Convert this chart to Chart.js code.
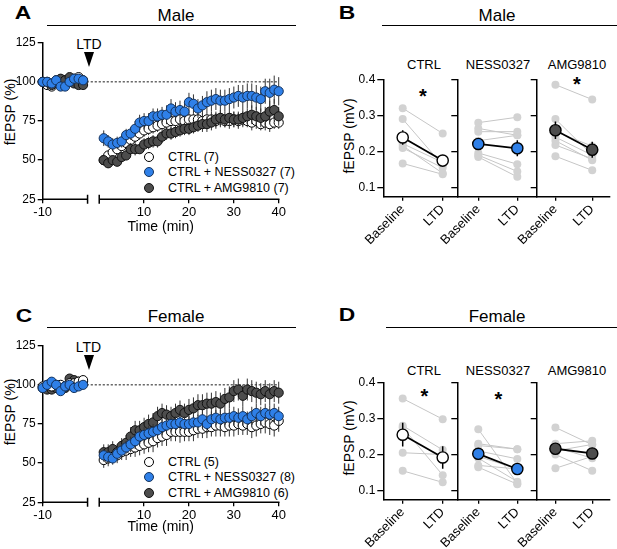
<!DOCTYPE html>
<html lang="en">

<head>
    <meta charset="UTF-8">
    <meta name="viewport" content="width=device-width, initial-scale=1.0">
    <title>LTD in male and female slices</title>
    <style>
        body {
            margin: 0;
            background: #fff;
            color: #000;
            font-family: "Liberation Sans", Arial, Helvetica, sans-serif;
        }

        #fig { position: relative; width: 617px; height: 549px; overflow: hidden; }
        #fig canvas { position: absolute; }
        .c { position: absolute; transform: translate(-50%, -50%); line-height: 1; white-space: nowrap; }
        .l { position: absolute; transform: translateY(-50%); line-height: 1; white-space: nowrap; font-size: 12.5px; }
        .v { position: absolute; transform: translate(-50%, -50%) rotate(-90deg); line-height: 1; white-space: nowrap; font-size: 14px; }
        .letter { font-size: 19px; font-weight: bold; transform: translate(-50%, -50%) scaleX(1.2); }
        .head { font-size: 17px; }
        .ltd { font-size: 14px; }
        .sub { font-size: 13px; }
        .star { font-size: 20px; font-weight: bold; }
        .rule { position: absolute; height: 0; border-top: 1.5px solid #000; }
        .dot { position: absolute; width: 10px; height: 10px; box-sizing: border-box; border-radius: 50%; border: 1px solid #000; transform: translate(-50%, -50%); }
        .arrow { position: absolute; width: 0; height: 0; border-left: 5.5px solid transparent; border-right: 5.5px solid transparent; border-top: 15px solid #000; }
    </style>
</head>

<body>
    <div id="fig">
        <!-- top row: male -->
        <div class="c letter" style="left:23px;top:11.5px">A</div>
        <div class="c head" style="left:176px;top:15px">Male</div>
        <div class="rule" style="left:47px;top:25.3px;width:249px"></div>
        <div class="c letter" style="left:347px;top:11.5px">B</div>
        <div class="c head" style="left:497px;top:15px">Male</div>
        <div class="rule" style="left:382px;top:25.3px;width:235px"></div>

        <div class="c ltd" style="left:89px;top:43.5px">LTD</div>
        <div class="arrow" style="left:83.5px;top:52px"></div>
        <div class="v" style="left:9.5px;top:111.5px">fEPSP (%)</div>

        <div class="dot" style="left:149px;top:157px;background:#fff"></div>
        <div class="l" style="left:168px;top:157px">CTRL (7)</div>
        <div class="dot" style="left:149px;top:172.3px;background:#2f80e8;border-color:#14325c"></div>
        <div class="l" style="left:168px;top:172.3px">CTRL + NESS0327 (7)</div>
        <div class="dot" style="left:149px;top:188.3px;background:#4d4d4d;border-color:#111"></div>
        <div class="l" style="left:168px;top:188.3px">CTRL + AMG9810 (7)</div>

        <div class="v" style="left:349px;top:136px">fEPSP (mV)</div>
        <div class="c sub" style="left:424px;top:63.5px">CTRL</div>
        <div class="c sub" style="left:498px;top:63.5px">NESS0327</div>
        <div class="c sub" style="left:577px;top:63.5px">AMG9810</div>
        <div class="c star" style="left:423px;top:95.8px">*</div>
        <div class="c star" style="left:577px;top:83.5px">*</div>

        <!-- bottom row: female -->
        <div class="c letter" style="left:23.5px;top:315px">C</div>
        <div class="c head" style="left:176px;top:315.5px">Female</div>
        <div class="rule" style="left:47px;top:327px;width:249px"></div>
        <div class="c letter" style="left:347px;top:314px">D</div>
        <div class="c head" style="left:497px;top:316px">Female</div>
        <div class="rule" style="left:386px;top:327px;width:231px"></div>

        <div class="c ltd" style="left:88.5px;top:346.5px">LTD</div>
        <div class="arrow" style="left:83.5px;top:355px"></div>
        <div class="v" style="left:9.5px;top:411.7px">fEPSP (%)</div>

        <div class="dot" style="left:149px;top:461.7px;background:#fff"></div>
        <div class="l" style="left:168px;top:461.7px">CTRL (5)</div>
        <div class="dot" style="left:149px;top:477.3px;background:#2f80e8;border-color:#14325c"></div>
        <div class="l" style="left:168px;top:477.3px">CTRL + NESS0327 (8)</div>
        <div class="dot" style="left:149px;top:492.7px;background:#4d4d4d;border-color:#111"></div>
        <div class="l" style="left:168px;top:492.7px">CTRL + AMG9810 (6)</div>

        <div class="v" style="left:349px;top:438px">fEPSP (mV)</div>
        <div class="c sub" style="left:424px;top:369.5px">CTRL</div>
        <div class="c sub" style="left:498px;top:369.5px">NESS0327</div>
        <div class="c sub" style="left:577px;top:369.5px">AMG9810</div>
        <div class="c star" style="left:424.5px;top:396.3px">*</div>
        <div class="c star" style="left:498.5px;top:398.5px">*</div>

        <canvas id="chartA" width="300" height="210" style="left:0;top:30px"></canvas>
        <canvas id="chartC" width="300" height="207" style="left:0;top:332.7px"></canvas>
        <canvas id="b1" width="130" height="195" style="left:338px;top:60px"></canvas>
        <canvas id="b2" width="127" height="195" style="left:420px;top:60px"></canvas>
        <canvas id="b3" width="117" height="195" style="left:500px;top:60px"></canvas>
        <canvas id="d1" width="130" height="195" style="left:338px;top:363px"></canvas>
        <canvas id="d2" width="127" height="195" style="left:420px;top:363px"></canvas>
        <canvas id="d3" width="117" height="195" style="left:500px;top:363px"></canvas>
    </div>

    <script src="https://cdn.jsdelivr.net/npm/chart.js"></script>
    <script>
    // ---- time course data (fEPSP, % of baseline) ----
    const baselineTimes = [-10, -9, -8, -7, -6, -5, -4, -3, -2, -1];
    const postTimes = [1, 2, 3, 4, 5, 6, 7, 8, 9, 10, 11, 12, 13, 14, 15, 16, 17, 18, 19, 20,
        21, 22, 23, 24, 25, 26, 27, 28, 29, 30, 31, 32, 33, 34, 35, 36, 37, 38, 39, 40];
    const timeTicks = [-10, 10, 20, 30, 40];
    const pctTicks = [25, 50, 75, 100, 125];

    const maleCtrlBase = [100, 98, 97, 100, 99, 101, 100, 102, 103, 101];
    const maleCtrlBaseSem = [1, 2, 2, 1, 2, 2, 1, 2, 2, 1];
    const maleCtrlPost = [50, 53, 55, 57, 59, 61, 63, 65, 67, 69, 70, 71, 72, 73, 74, 75, 75, 76, 75, 76,
        76, 76, 75, 76, 76, 75, 76, 75, 75, 76, 75, 76, 75, 74, 75, 73, 74, 73, 74, 74];
    const maleCtrlPostSem = [3, 3, 3, 3, 3, 3, 4, 4, 4, 4, 4, 4, 4, 4, 4, 5, 4, 4, 5, 5,
        4, 5, 5, 4, 5, 5, 5, 4, 5, 5, 5, 5, 4, 5, 5, 4, 5, 5, 4, 4];

    const maleNessBase = [100, 100, 99, 101, 97, 97, 100, 102, 102, 101];
    const maleNessBaseSem = [1, 1, 2, 2, 2, 2, 1, 2, 2, 2];
    const maleNessPost = [64, 62, 60, 61, 62, 66, 67, 70, 74, 75, 75, 78, 78, 79, 79, 83, 81, 82, 81, 87,
        86, 83, 85, 87, 88, 89, 88, 88, 89, 90, 91, 90, 91, 91, 90, 89, 94, 93, 95, 94];
    const maleNessPostSem = [5, 4, 4, 4, 4, 4, 4, 5, 5, 5, 5, 5, 5, 5, 6, 6, 6, 6, 6, 6,
        6, 6, 6, 7, 7, 7, 7, 7, 7, 7, 7, 8, 8, 8, 8, 8, 8, 9, 9, 9];

    const maleAmgBase = [100, 100, 98, 101, 102, 101, 103, 99, 98, 98];
    const maleAmgBaseSem = [1, 1, 1, 2, 2, 1, 2, 1, 1, 1];
    const maleAmgPost = [50, 48, 50, 49, 52, 53, 57, 57, 57, 60, 61, 62, 62, 65, 67, 67, 68, 69, 70, 70,
        71, 72, 73, 73, 74, 76, 77, 76, 77, 76, 76, 77, 78, 79, 78, 77, 78, 81, 82, 78];
    const maleAmgPostSem = [3, 3, 3, 3, 3, 3, 4, 4, 3, 4, 4, 4, 4, 4, 4, 4, 4, 4, 4, 4,
        4, 4, 5, 5, 5, 5, 5, 5, 5, 5, 5, 5, 5, 6, 6, 6, 6, 7, 7, 6];

    const femaleCtrlBase = [99, 100, 99, 100, 100, 99, 101, 101, 102, 103];
    const femaleCtrlBaseSem = [2, 2, 2, 2, 2, 2, 2, 2, 2, 2];
    const femaleCtrlPost = [52, 53, 54, 55, 57, 58, 59, 60, 61, 62, 63, 64, 66, 67, 68, 70, 70, 70, 70, 70,
        71, 72, 72, 73, 73, 74, 74, 73, 74, 74, 75, 74, 75, 73, 74, 75, 76, 75, 74, 77];
    const femaleCtrlPostSem = [5, 5, 4, 5, 5, 6, 5, 6, 6, 6, 6, 7, 6, 6, 7, 6, 6, 7, 6, 6,
        7, 6, 6, 7, 6, 7, 7, 6, 7, 7, 7, 6, 7, 7, 7, 6, 7, 7, 7, 7];

    const femaleNessBase = [98, 100, 102, 100, 96, 99, 100, 98, 99, 100];
    const femaleNessBaseSem = [1, 2, 2, 2, 2, 2, 1, 2, 2, 2];
    const femaleNessPost = [55, 54, 53, 56, 58, 60, 62, 64, 67, 68, 69, 70, 71, 73, 74, 75, 75, 76, 75, 75,
        76, 76, 78, 75, 78, 79, 78, 79, 79, 80, 79, 80, 78, 80, 82, 80, 82, 81, 82, 80];
    const femaleNessPostSem = [4, 4, 4, 4, 4, 4, 5, 5, 5, 5, 5, 5, 5, 5, 5, 5, 5, 5, 5, 5,
        5, 5, 5, 6, 5, 5, 6, 5, 6, 6, 6, 6, 5, 6, 6, 6, 6, 6, 6, 6];

    const femaleAmgBase = [98, 97, 97, 98, 99, 98, 104, 103, 102, 102];
    const femaleAmgBaseSem = [2, 2, 2, 2, 2, 2, 2, 2, 2, 2];
    const femaleAmgPost = [57, 57, 59, 57, 61, 63, 67, 71, 71, 73, 75, 76, 80, 82, 81, 80, 82, 84, 82, 84,
        85, 87, 87, 88, 88, 89, 88, 91, 92, 96, 97, 93, 97, 96, 95, 94, 96, 94, 96, 95];
    const femaleAmgPostSem = [5, 5, 5, 5, 5, 5, 6, 6, 6, 6, 6, 6, 6, 6, 6, 6, 6, 6, 6, 7,
        7, 7, 7, 7, 7, 7, 7, 7, 7, 7, 7, 7, 7, 7, 7, 7, 7, 7, 7, 7];

    // ---- paired amplitudes (fEPSP, mV), order: CTRL, NESS0327, AMG9810 ----
    const conditions = ['Baseline', 'LTD'];
    const mvTicks = [0.1, 0.2, 0.3, 0.4];

    const maleBaseline = [
        [0.32, 0.29, 0.24, 0.222, 0.216, 0.21, 0.167],
        [0.28, 0.264, 0.255, 0.23, 0.196, 0.19, 0.185],
        [0.385, 0.29, 0.255, 0.24, 0.23, 0.218, 0.187]
    ];
    const maleLtd = [
        [0.25, 0.162, 0.175, 0.17, 0.14, 0.155, 0.137],
        [0.295, 0.245, 0.255, 0.245, 0.165, 0.145, 0.13],
        [0.344, 0.19, 0.215, 0.19, 0.176, 0.18, 0.148]
    ];
    const maleMean = [[0.239, 0.175], [0.221, 0.209], [0.259, 0.205]];
    const maleSem = [[0.02, 0.012], [0.015, 0.022], [0.024, 0.022]];

    const femaleBaseline = [
        [0.355, 0.28, 0.275, 0.205, 0.155],
        [0.27, 0.23, 0.225, 0.21, 0.195, 0.19, 0.17, 0.165],
        [0.275, 0.23, 0.22, 0.21, 0.2, 0.162]
    ];
    const femaleLtd = [
        [0.298, 0.213, 0.143, 0.2, 0.123],
        [0.12, 0.215, 0.215, 0.188, 0.16, 0.125, 0.16, 0.118],
        [0.227, 0.238, 0.19, 0.228, 0.155, 0.195]
    ];
    const femaleMean = [[0.255, 0.192], [0.202, 0.16], [0.216, 0.203]];
    const femaleSem = [[0.033, 0.031], [0.01, 0.01], [0.012, 0.01]];

    // ---- drawing ----
    Chart.defaults.font.family = '"Liberation Sans", Arial, Helvetica, sans-serif';
    Chart.defaults.color = '#000';

    const BREAK = 2.6; // width of the axis gap, in minutes
    const FILLS = [
        { fill: '#ffffff', edge: '#000000' },
        { fill: '#2f80e8', edge: '#14325c' },
        { fill: '#4d4d4d', edge: '#111111' }
    ];

    function drawSem(chart, index, color, width) {
        const ds = chart.data.datasets[index];
        if (!ds.sem) return;
        const y = chart.scales.y;
        const ctx = chart.ctx;
        ctx.save();
        ctx.strokeStyle = color;
        ctx.lineWidth = width;
        ctx.beginPath();
        chart.getDatasetMeta(index).data.forEach((pt, i) => {
            const v = ds.data[i].y;
            ctx.moveTo(pt.x, y.getPixelForValue(v - ds.sem[i]));
            ctx.lineTo(pt.x, y.getPixelForValue(v + ds.sem[i]));
        });
        ctx.stroke();
        ctx.restore();
    }

    const timeExtras = {
        id: 'timeExtras',
        beforeDatasetsDraw(chart) {
            const { ctx, scales: { x, y } } = chart;
            const yy = y.getPixelForValue(100);
            ctx.save();
            ctx.strokeStyle = '#000';
            ctx.lineWidth = 0.9;
            ctx.setLineDash([2.2, 1.8]);
            ctx.beginPath();
            ctx.moveTo(x.getPixelForValue(-10), yy);
            ctx.lineTo(x.getPixelForValue(40 + BREAK), yy);
            ctx.stroke();
            ctx.restore();
        },
        beforeDatasetDraw(chart, args) {
            drawSem(chart, args.index, '#333', 1);
        },
        afterDraw(chart) {
            // broken time axis
            const { ctx, scales: { x } } = chart;
            const yb = chart.chartArea.bottom;
            const a = x.getPixelForValue(-10), b = x.getPixelForValue(0);
            const c = x.getPixelForValue(BREAK), d = x.getPixelForValue(40 + BREAK);
            ctx.save();
            ctx.strokeStyle = '#000';
            ctx.lineWidth = 1.5;
            ctx.beginPath();
            ctx.moveTo(a - 0.75, yb); ctx.lineTo(b, yb);
            ctx.moveTo(b, yb - 4.5); ctx.lineTo(b, yb + 4.5);
            ctx.moveTo(c, yb - 4.5); ctx.lineTo(c, yb + 4.5);
            ctx.moveTo(c, yb); ctx.lineTo(d + 0.75, yb);
            ctx.stroke();
            ctx.restore();
        }
    };

    function timeSeries(base, baseSem, post, postSem, style, order) {
        const pts = baselineTimes.map((t, i) => ({ x: t, y: base[i] }))
            .concat(postTimes.map((t, i) => ({ x: t + BREAK, y: post[i] })));
        return {
            data: pts,
            sem: baseSem.concat(postSem),
            order: order,
            showLine: false,
            clip: false,
            pointRadius: 4.6,
            pointBackgroundColor: style.fill,
            pointBorderColor: style.edge,
            pointBorderWidth: 1
        };
    }

    function timeChart(id, datasets, xHeight) {
        return new Chart(document.getElementById(id), {
            type: 'scatter',
            data: { datasets: datasets },
            options: {
                responsive: false,
                animation: false,
                layout: { padding: { top: 12.7, right: 21.3, left: 0, bottom: 0 } },
                plugins: { legend: { display: false }, tooltip: { enabled: false } },
                scales: {
                    x: {
                        type: 'linear', min: -10, max: 40 + BREAK,
                        afterBuildTicks: s => { s.ticks = timeTicks.map(v => ({ value: v < 0 ? v : v + BREAK })); },
                        afterFit: s => { s.height = xHeight; },
                        ticks: {
                            callback: v => (v < 0 ? v : Math.round(v - BREAK)),
                            font: { size: 13 }, padding: 1, maxRotation: 0, autoSkip: false
                        },
                        grid: { drawOnChartArea: false, tickLength: 4, color: '#000', lineWidth: 1.3 },
                        border: { display: false },
                        title: { display: true, text: 'Time (min)', font: { size: 14 }, padding: { top: 4, bottom: 4 } }
                    },
                    y: {
                        min: 25, max: 125,
                        afterBuildTicks: s => { s.ticks = pctTicks.map(v => ({ value: v })); },
                        afterFit: s => { s.width = 42.7; },
                        ticks: { font: { size: 12 }, padding: 2 },
                        grid: { drawOnChartArea: false, tickLength: 5, color: '#000', lineWidth: 1.3 },
                        border: { color: '#000', width: 1.5 }
                    }
                }
            },
            plugins: [timeExtras]
        });
    }

    // draw order: blue on top, then dark, white underneath
    timeChart('chartA', [
        timeSeries(maleNessBase, maleNessBaseSem, maleNessPost, maleNessPostSem, FILLS[1], 0),
        timeSeries(maleAmgBase, maleAmgBaseSem, maleAmgPost, maleAmgPostSem, FILLS[2], 1),
        timeSeries(maleCtrlBase, maleCtrlBaseSem, maleCtrlPost, maleCtrlPostSem, FILLS[0], 2)
    ], 40.7);

    timeChart('chartC', [
        timeSeries(femaleNessBase, femaleNessBaseSem, femaleNessPost, femaleNessPostSem, FILLS[1], 0),
        timeSeries(femaleCtrlBase, femaleCtrlBaseSem, femaleCtrlPost, femaleCtrlPostSem, FILLS[0], 1),
        timeSeries(femaleAmgBase, femaleAmgBaseSem, femaleAmgPost, femaleAmgPostSem, FILLS[2], 2)
    ], 37.7);

    const pairSem = {
        id: 'pairSem',
        beforeDatasetDraw(chart, args) { drawSem(chart, args.index, '#000', 1.5); }
    };

    // sub-panel geometry: x range, y-axis box width, right padding
    const SUBS = [
        { xMin: -0.485, xMax: 1.365, yWidth: 45.3, right: 10.7, labels: true },
        { xMin: -0.538, xMax: 1.497, yWidth: 37.3, right: 10.3, labels: false },
        { xMin: -0.509, xMax: 1.483, yWidth: 36.7, right: 2, labels: false }
    ];

    function pairChart(id, g, base, ltd, mean, sem) {
        const sub = SUBS[g];
        const datasets = base.map((b, i) => ({
            data: [{ x: 0, y: b }, { x: 1, y: ltd[i] }],
            showLine: true, clip: false, order: 1,
            borderColor: '#c6c6c6', borderWidth: 1,
            pointRadius: 4, pointBackgroundColor: '#d2d2d2', pointBorderWidth: 0
        }));
        datasets.push({
            data: [{ x: 0, y: mean[0] }, { x: 1, y: mean[1] }],
            sem: sem,
            showLine: true, clip: false, order: 0,
            borderColor: '#000', borderWidth: 1.8,
            pointRadius: 5.6, pointBackgroundColor: FILLS[g].fill,
            pointBorderColor: '#000', pointBorderWidth: 1.4
        });
        return new Chart(document.getElementById(id), {
            type: 'scatter',
            data: { datasets: datasets },
            options: {
                responsive: false,
                animation: false,
                layout: { padding: { top: 19.3, right: sub.right, left: 0, bottom: 0 } },
                plugins: { legend: { display: false }, tooltip: { enabled: false } },
                scales: {
                    x: {
                        type: 'linear', min: sub.xMin, max: sub.xMax,
                        afterBuildTicks: s => { s.ticks = conditions.map((_, i) => ({ value: i })); },
                        afterFit: s => { s.height = 58.3; },
                        ticks: {
                            callback: v => conditions[v],
                            minRotation: 45, maxRotation: 45, autoSkip: false,
                            font: { size: 13 }, padding: 1
                        },
                        grid: { drawOnChartArea: false, tickLength: 4, color: '#000', lineWidth: 1.3 },
                        border: { color: '#000', width: 1.5 }
                    },
                    y: {
                        min: 0.075, max: 0.4,
                        afterBuildTicks: s => { s.ticks = mvTicks.map(v => ({ value: v })); },
                        afterFit: s => { s.width = sub.yWidth; },
                        ticks: { display: sub.labels, callback: v => v.toFixed(1), font: { size: 12 }, padding: 2 },
                        grid: { drawOnChartArea: false, tickLength: 6, color: '#000', lineWidth: 1.3 },
                        border: { color: '#000', width: 1.5 }
                    }
                }
            },
            plugins: [pairSem]
        });
    }

    ['b1', 'b2', 'b3'].forEach((id, g) => pairChart(id, g, maleBaseline[g], maleLtd[g], maleMean[g], maleSem[g]));
    ['d1', 'd2', 'd3'].forEach((id, g) => pairChart(id, g, femaleBaseline[g], femaleLtd[g], femaleMean[g], femaleSem[g]));
    </script>
</body>

</html>
